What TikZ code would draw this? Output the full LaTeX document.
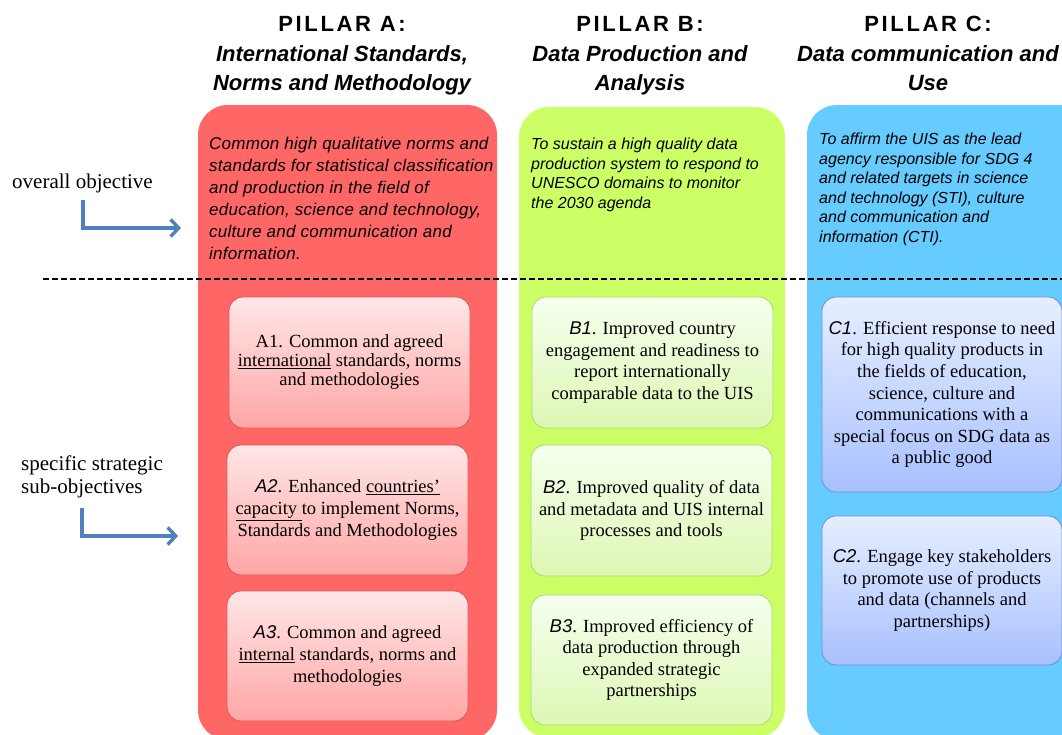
\documentclass[tikz,border=0pt]{standalone}
\usepackage{fontspec}
\setmainfont{Liberation Serif}
\newfontfamily\arialf{Liberation Sans}
\usetikzlibrary{arrows.meta}
\definecolor{pAfill}{HTML}{FF6666}
\definecolor{pBfill}{HTML}{CCFF66}
\definecolor{pCfill}{HTML}{66CCFF}
\definecolor{sAtop}{HTML}{FFE6E6}
\definecolor{sAbot}{HTML}{FFA6A6}
\definecolor{sAline}{HTML}{D85858}
\definecolor{sBtop}{HTML}{F6FFEE}
\definecolor{sBbot}{HTML}{DDF7B4}
\definecolor{sBline}{HTML}{A9D873}
\definecolor{sCtop}{HTML}{E6EEFF}
\definecolor{sCbot}{HTML}{A8C0FF}
\definecolor{sCline}{HTML}{6F8ED6}
\definecolor{arrowblue}{HTML}{4F81BD}
\tikzset{
  pillar/.style={rounded corners=30pt, inner sep=0pt},
  ptitle/.style={align=center, inner sep=0pt, anchor=north,
    font=\arialf\bfseries\fontsize{22}{29.7}\selectfont},
  pobj/.style={align=left, inner sep=0pt, anchor=north west},
  subbox/.style={rounded corners=14pt, line width=0.8pt, align=center, inner sep=0pt,
    font=\fontsize{18.5}{21.6}\selectfont},
  subA/.style={subbox, draw=sAline, top color=sAtop, bottom color=sAbot},
  subB/.style={subbox, draw=sBline, top color=sBtop, bottom color=sBbot},
  subC/.style={subbox, draw=sCline, top color=sCtop, bottom color=sCbot},
  sidelbl/.style={align=left, inner sep=0pt, font=\fontsize{21}{23}\selectfont},
  bluearrow/.style={draw=arrowblue, line width=3.4pt,
    -{Straight Barb[length=8pt,width=17pt]}},
  dashline/.style={draw=black, line width=1.2pt, dash pattern=on 6pt off 3pt}
}
\newcommand{\ai}[1]{{\arialf\itshape #1}}
\begin{document}
\begin{tikzpicture}[x=1pt,y=-1pt]
\useasboundingbox (0,0) rectangle (1062,734);
\clip (0,0) rectangle (1062,734);
\fill[white] (0,0) rectangle (1062,734);

% pillars
\node[pillar, fill=pAfill, minimum width=299pt, minimum height=635pt] (pillarA) at (347.5,422.5) {};
\node[pillar, fill=pBfill, minimum width=266pt, minimum height=631pt] (pillarB) at (652,422.5) {};
\node[pillar, fill=pCfill, minimum width=293pt, minimum height=635pt] (pillarC) at (953.5,422.5) {};

% titles
\node[ptitle] (titleA) at (342,16) {{\addfontfeature{LetterSpace=12}PILLAR A:}\\ \itshape International Standards,\\ \itshape Norms and Methodology};
\node[ptitle] (titleB) at (640,16) {{\addfontfeature{LetterSpace=12}PILLAR B:}\\ \itshape Data Production and\\ \itshape Analysis};
\node[ptitle] (titleC) at (928,16) {{\addfontfeature{LetterSpace=12}PILLAR C:}\\ \itshape Data communication and\\ \itshape Use};

% overall objectives
\node[pobj, font=\arialf\itshape\fontsize{17}{22}\selectfont] (objA) at (209,137)
  {\addfontfeature{LetterSpace=1.5}Common high qualitative norms and\\ \addfontfeature{LetterSpace=1.5}standards for statistical classification\\ \addfontfeature{LetterSpace=1.5}and production in the field of\\ \addfontfeature{LetterSpace=1.5}education, science and technology,\\ \addfontfeature{LetterSpace=1.5}culture and communication and\\ \addfontfeature{LetterSpace=1.5}information.};
\node[pobj, font=\arialf\itshape\fontsize{16}{19.6}\selectfont] (objB) at (531,138)
  {To sustain a high quality data\\ production system to respond to\\ UNESCO domains to monitor\\ the 2030 agenda};
\node[pobj, font=\arialf\itshape\fontsize{16}{19.5}\selectfont] (objC) at (819,133)
  {To affirm the UIS as the lead\\ agency responsible for SDG 4\\ and related targets in science\\ and technology (STI), culture\\ and communication and\\ information (CTI).};

% dashed separator
\coordinate (dashL) at (43,279);
\coordinate (dashR) at (1062,279);
\draw[dashline] (dashL) -- (dashR);

% side labels and arrows
\node[sidelbl, anchor=base west] (lblOverall) at (12,188) {overall objective};
\node[sidelbl, anchor=north west] (lblSpecific) at (21,456) {specific strategic\\ sub-objectives};
\coordinate (startO) at (83,200);
\coordinate (tipO) at (181,228);
\coordinate (startS) at (82,508);
\coordinate (tipS) at (178,536);
\draw[bluearrow] (startO) |- (tipO);
\draw[bluearrow] (startS) |- (tipS);

% pillar A sub-objectives
\node[subA, font=\fontsize{18.5}{19}\selectfont, minimum width=241pt, minimum height=131pt] (A1) at (349.5,362.5)
  {A1. Common and agreed\\ \underline{international} standards, norms\\ and methodologies};
\node[subA, minimum width=241pt, minimum height=130pt] (A2) at (347.5,510)
  {\ai{A2}. Enhanced \underline{countries'}\\ \underline{capacity~}to implement Norms,\\ Standards and Methodologies};
\node[subA, minimum width=241pt, minimum height=130pt] (A3) at (347.5,656)
  {\ai{A3}. Common and agreed\\ \underline{internal} standards, norms and\\ methodologies};

% pillar B sub-objectives
\node[subB, minimum width=241pt, minimum height=131pt] (B1) at (652.5,362.5)
  {\ai{B1}. Improved country\\ engagement and readiness to\\ report internationally\\ comparable data to the UIS};
\node[subB, minimum width=241pt, minimum height=131pt] (B2) at (651.5,510.5)
  {\ai{B2}. Improved quality of data\\ and metadata and UIS internal\\ processes and tools};
\node[subB, minimum width=241pt, minimum height=130pt] (B3) at (651.5,660)
  {\ai{B3}. Improved efficiency of\\ data production through\\ expanded strategic\\ partnerships};

% pillar C sub-objectives
\node[subC, minimum width=240pt, minimum height=195pt] (C1) at (942,394.5)
  {\ai{C1}. Efficient response to need\\ for high quality products in\\ the fields of education,\\ science, culture and\\ communications with a\\ special focus on SDG data as\\ a public good};
\node[subC, minimum width=240pt, minimum height=149pt] (C2) at (942,590.5)
  {\ai{C2}. Engage key stakeholders\\ to promote use of products\\ and data (channels and\\ partnerships)};
\end{tikzpicture}
\end{document}
